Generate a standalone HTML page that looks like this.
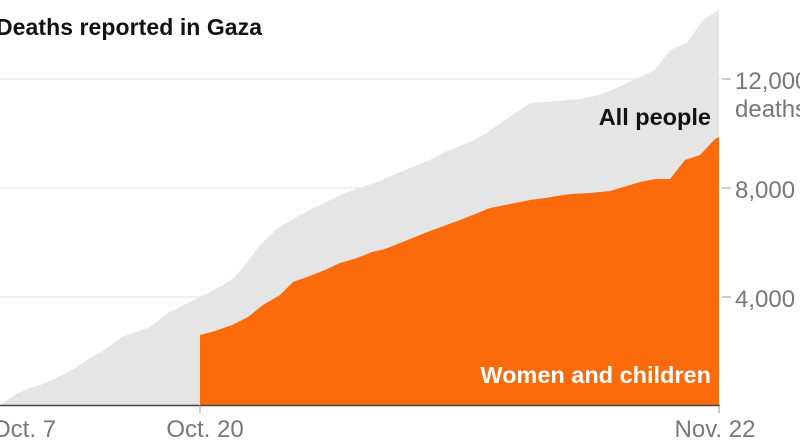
<!DOCTYPE html>
<html><head><style>
html,body{margin:0;padding:0;background:#fff;width:800px;height:445px;overflow:hidden}
svg{display:block;font-family:"Liberation Sans",sans-serif}
</style></head><body>
<svg width="800" height="445" viewBox="0 0 800 445">
<g stroke="#e2e2e2" stroke-width="1">
<line x1="0" y1="79" x2="720" y2="79"/><line x1="0" y1="188" x2="720" y2="188"/><line x1="0" y1="297" x2="720" y2="297"/>
</g>
<g stroke="#999" stroke-width="1">
<line x1="722" y1="79" x2="731" y2="79"/><line x1="722" y1="188" x2="731" y2="188"/><line x1="722" y1="297" x2="731" y2="297"/>
</g>
<polygon fill="#e5e5e5" points="0,405 13,396 27,389 43,384 57,378 72,370 90,358 103,351 122,337 150,327 168,313 200,297 220,287 235,277 248,261 260,245 278,228 300,215 320,205 345,193 380,181 400,172 430,160 445,152 470,142 485,134 530,103 545,102 580,99 595,96 610,91 640,77 655,70 670,50 687,43 703,20 719,10 719,405"/>
<polygon fill="#fb6b0c" points="200,405 200,335 215,331 232,325 248,317 263,305 280,295 293,282 307,277 325,270 340,263 357,258 372,252 385,249 400,243 430,231 460,220 490,208 530,200 545,198 570,194 590,193 610,191 640,182 655,179 670,179 685,160 700,155 715,139 719,137 719,405"/>
<line x1="0" y1="405.5" x2="720" y2="405.5" stroke="#444" stroke-width="1.5"/>
<line x1="200" y1="405" x2="200" y2="413" stroke="#999"/>
<line x1="719" y1="405" x2="719" y2="413" stroke="#999"/>
<text x="-4" y="35" font-size="23" font-weight="bold" fill="#121212" textLength="266">Deaths reported in Gaza</text>
<text x="711" y="125" font-size="23.5" font-weight="bold" fill="#121212" text-anchor="end">All people</text>
<text x="711" y="383" font-size="23.5" font-weight="bold" fill="#fff" text-anchor="end">Women and children</text>
<g font-size="24" fill="#777">
<text x="735" y="89">12,000</text>
<text x="735" y="117">deaths</text>
<text x="735" y="198">8,000</text>
<text x="735" y="307">4,000</text>
<text x="-8" y="437">Oct. 7</text>
<text x="205" y="437" text-anchor="middle">Oct. 20</text>
<text x="715" y="437" text-anchor="middle">Nov. 22</text>
</g>
</svg>
</body></html>
